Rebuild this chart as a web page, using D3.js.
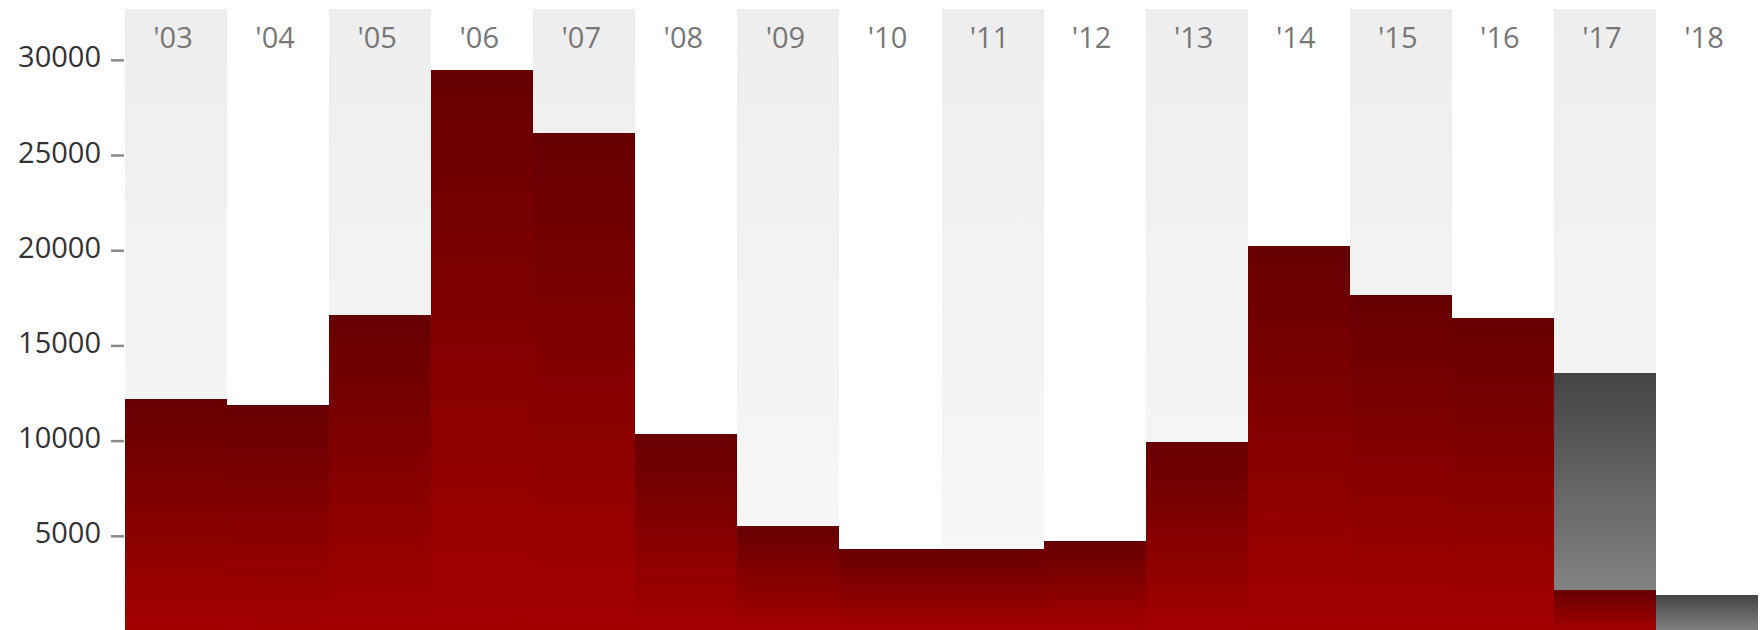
<!DOCTYPE html>
<html>
<head>
<meta charset="utf-8">
<script src="https://cdn.jsdelivr.net/npm/d3@7"></script>
<style>
  body { margin: 0; background: #fff; }
  text { font-family: "Open Sans", sans-serif; }
  rect { shape-rendering: crispEdges; }
</style>
</head>
<body>
<div id="chart"></div>
<script>
// Chart data
const years = ["'03", "'04", "'05", "'06", "'07", "'08", "'09", "'10", "'11", "'12", "'13", "'14", "'15", "'16", "'17", "'18"];
const redValues = [12180, 11870, 16600, 29460, 26150, 10350, 5510, 4310, 4310, 4730, 9930, 20220, 17650, 16440, 2150, 0];
const greyValues = [0, 0, 0, 0, 0, 0, 0, 0, 0, 0, 0, 0, 0, 0, 11400, 1890];
const tickValues = [5000, 10000, 15000, 20000, 25000, 30000];
const yMax = 32670;

const totalWidth = 1764;
const totalHeight = 630;
const margin = { top: 9, right: 6, bottom: -1, left: 125 };
const width = totalWidth - margin.left - margin.right;
const height = totalHeight - margin.top - margin.bottom;

const svgRoot = d3.select("#chart")
    .append("svg")
    .attr("width", totalWidth)
    .attr("height", totalHeight);

// Gradients
const defs = svgRoot.append("defs");
function addGradient(id, top, bottom) {
    const g = defs.append("linearGradient")
        .attr("id", id)
        .attr("x1", 0).attr("y1", 0)
        .attr("x2", 0).attr("y2", 1);
    g.append("stop").attr("offset", "0%").attr("stop-color", top);
    g.append("stop").attr("offset", "100%").attr("stop-color", bottom);
}
addGradient("redGrad", "#660000", "#a40000");
addGradient("greyGrad", "#444444", "#828282");
addGradient("bgGrad", "#eeeeee", "#f8f8f8");

const svg = svgRoot.append("g")
    .attr("transform", `translate(${margin.left},${margin.top})`);

// Scales
const x = d3.scaleBand()
    .domain(years)
    .range([0, width])
    .padding(0);
const y = d3.scaleLinear()
    .domain([0, yMax])
    .range([height, 0]);

// Alternating background columns
svg.selectAll(".bg")
    .data(years.filter((d, i) => i % 2 === 0))
    .enter().append("rect")
    .attr("class", "bg")
    .attr("x", d => x(d))
    .attr("y", 0)
    .attr("width", x.bandwidth())
    .attr("height", height)
    .style("fill", "url(#bgGrad)");

// Red bars
svg.selectAll(".bar-red")
    .data(years.map((d, i) => ({ year: d, v: redValues[i] })).filter(d => d.v > 0))
    .enter().append("rect")
    .attr("class", "bar-red")
    .attr("x", d => x(d.year))
    .attr("y", d => y(d.v))
    .attr("width", x.bandwidth())
    .attr("height", d => y(0) - y(d.v))
    .style("fill", "url(#redGrad)");

// Grey bars stacked on top of red
svg.selectAll(".bar-grey")
    .data(years.map((d, i) => ({ year: d, base: redValues[i], v: greyValues[i] })).filter(d => d.v > 0))
    .enter().append("rect")
    .attr("class", "bar-grey")
    .attr("x", d => x(d.year))
    .attr("y", d => y(d.base + d.v))
    .attr("width", x.bandwidth())
    .attr("height", d => y(d.base) - y(d.base + d.v))
    .style("fill", "url(#greyGrad)");

// Year labels
svg.selectAll(".year")
    .data(years)
    .enter().append("text")
    .attr("class", "year")
    .attr("x", d => x(d) + x.bandwidth() / 2 - 3)
    .attr("y", 39)
    .attr("text-anchor", "middle")
    .style("font-size", "29px")
    .style("fill", "#777")
    .text(d => d);

// Y axis
const yAxis = svg.append("g")
    .call(d3.axisLeft(y).tickValues(tickValues).tickSize(14).tickPadding(10).tickFormat(d3.format("d")));
yAxis.select(".domain").remove();
yAxis.selectAll(".tick line")
    .attr("stroke", "#8a8a8a")
    .attr("stroke-width", 2.5)
    .attr("x1", -1);
yAxis.selectAll(".tick text")
    .attr("dy", "0")
    .attr("y", 7)
    .style("font-size", "29px")
    .style("fill", "#333");
</script>
</body>
</html>
